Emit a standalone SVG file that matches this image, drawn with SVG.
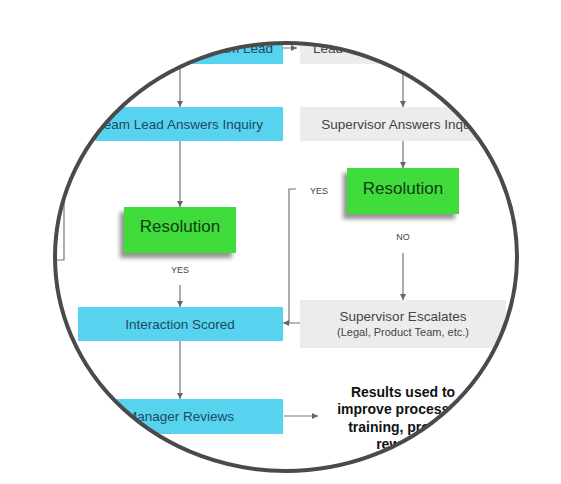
<svg xmlns="http://www.w3.org/2000/svg" width="561" height="484" viewBox="0 0 561 484">
<style>
.t{font-family:"Liberation Sans",Arial,sans-serif;}
.cy{fill:#58d3ef;}
.gr{fill:#ececec;}
.gn{fill:#3fdc3c;}
.ct{fill:#1d4a5e;font-size:13.5px;}
.gt{fill:#444;font-size:13.5px;}
.rt{fill:#123a14;font-size:17px;}
.lb{fill:#444;font-size:9px;}
.ln{fill:none;stroke:#777;stroke-width:1.2;}
</style>
<defs>
<clipPath id="c"><ellipse cx="286" cy="257" rx="231" ry="214"/></clipPath>
<marker id="a" viewBox="0 0 6 6" refX="6" refY="3" markerWidth="5" markerHeight="5" orient="auto"><path d="M0,0 L6,3 L0,6 z" fill="#666"/></marker>
<filter id="s" x="-20%" y="-20%" width="140%" height="150%"><feGaussianBlur stdDeviation="2"/></filter>
</defs>
<rect width="561" height="484" fill="#fff"/>
<g clip-path="url(#c)">
<g id="connectors">
<path class="ln" d="M283 48 H297" marker-end="url(#a)"/>
<path class="ln" d="M180 64 V107" marker-end="url(#a)"/>
<path class="ln" d="M403 64 V107" marker-end="url(#a)"/>
<path class="ln" d="M180 141 V207" marker-end="url(#a)"/>
<path class="ln" d="M403 141 V168" marker-end="url(#a)"/>
<path class="ln" d="M403 253 V300" marker-end="url(#a)"/>
<path class="ln" d="M180 285 V307" marker-end="url(#a)"/>
<path class="ln" d="M296 189 H289 V323"/>
<path class="ln" d="M300 323 H283" marker-end="url(#a)"/>
<path class="ln" d="M180 341 V399" marker-end="url(#a)"/>
<path class="ln" d="M284 416 H318" marker-end="url(#a)"/>
<path class="ln" d="M40 200 H64 V260 H40"/>
</g>
<g id="n-team-lead"><rect class="cy" x="77" y="20" width="206" height="44"/><text class="t ct" x="273" y="53" text-anchor="end">Team Lead</text></g>
<g id="n-lead"><rect class="gr" x="300" y="20" width="206" height="44"/><text class="t gt" x="313" y="53">Lead</text></g>
<g id="n-tl-answers"><rect class="cy" x="77" y="107" width="206" height="34"/><text class="t ct" x="180" y="129" text-anchor="middle">Team Lead Answers Inquiry</text></g>
<g id="n-sup-answers"><rect class="gr" x="300" y="107" width="206" height="34"/><text class="t gt" x="403" y="129" text-anchor="middle">Supervisor Answers Inquiry</text></g>
<g id="n-res-left"><rect x="120" y="212" width="112" height="46" fill="#666" opacity="0.7" filter="url(#s)"/><rect class="gn" x="124" y="207" width="112" height="46"/><text class="t rt" x="180" y="232" text-anchor="middle">Resolution</text></g>
<g id="n-res-right"><rect x="343" y="173" width="112" height="46" fill="#666" opacity="0.7" filter="url(#s)"/><rect class="gn" x="347" y="168" width="112" height="46"/><text class="t rt" x="403" y="194" text-anchor="middle">Resolution</text></g>
<text class="t lb" x="180" y="273" text-anchor="middle">YES</text>
<text class="t lb" x="403" y="240" text-anchor="middle">NO</text>
<text class="t lb" x="319" y="194" text-anchor="middle">YES</text>
<g id="n-scored"><rect class="cy" x="78" y="307" width="205" height="34"/><text class="t ct" x="180" y="329" text-anchor="middle">Interaction Scored</text></g>
<g id="n-escalates"><rect class="gr" x="300" y="300" width="206" height="48"/><text class="t gt" x="403" y="321" text-anchor="middle">Supervisor Escalates</text><text class="t" x="403" y="336" text-anchor="middle" font-size="11" fill="#444">(Legal, Product Team, etc.)</text></g>
<g id="n-manager"><rect class="cy" x="78" y="399" width="205" height="35"/><text class="t ct" x="180" y="421" text-anchor="middle">Manager Reviews</text></g>
<g id="n-results"><text class="t" font-size="14" font-weight="bold" fill="#111" text-anchor="middle"><tspan x="403" y="397">Results used to</tspan><tspan x="403" y="414">improve processes,</tspan><tspan x="403" y="432">training, provide</tspan><tspan x="403" y="449">rewards</tspan></text></g>
</g>
<ellipse cx="286" cy="257" rx="231" ry="214" fill="none" stroke="#4a4a4a" stroke-width="4"/>
</svg>
